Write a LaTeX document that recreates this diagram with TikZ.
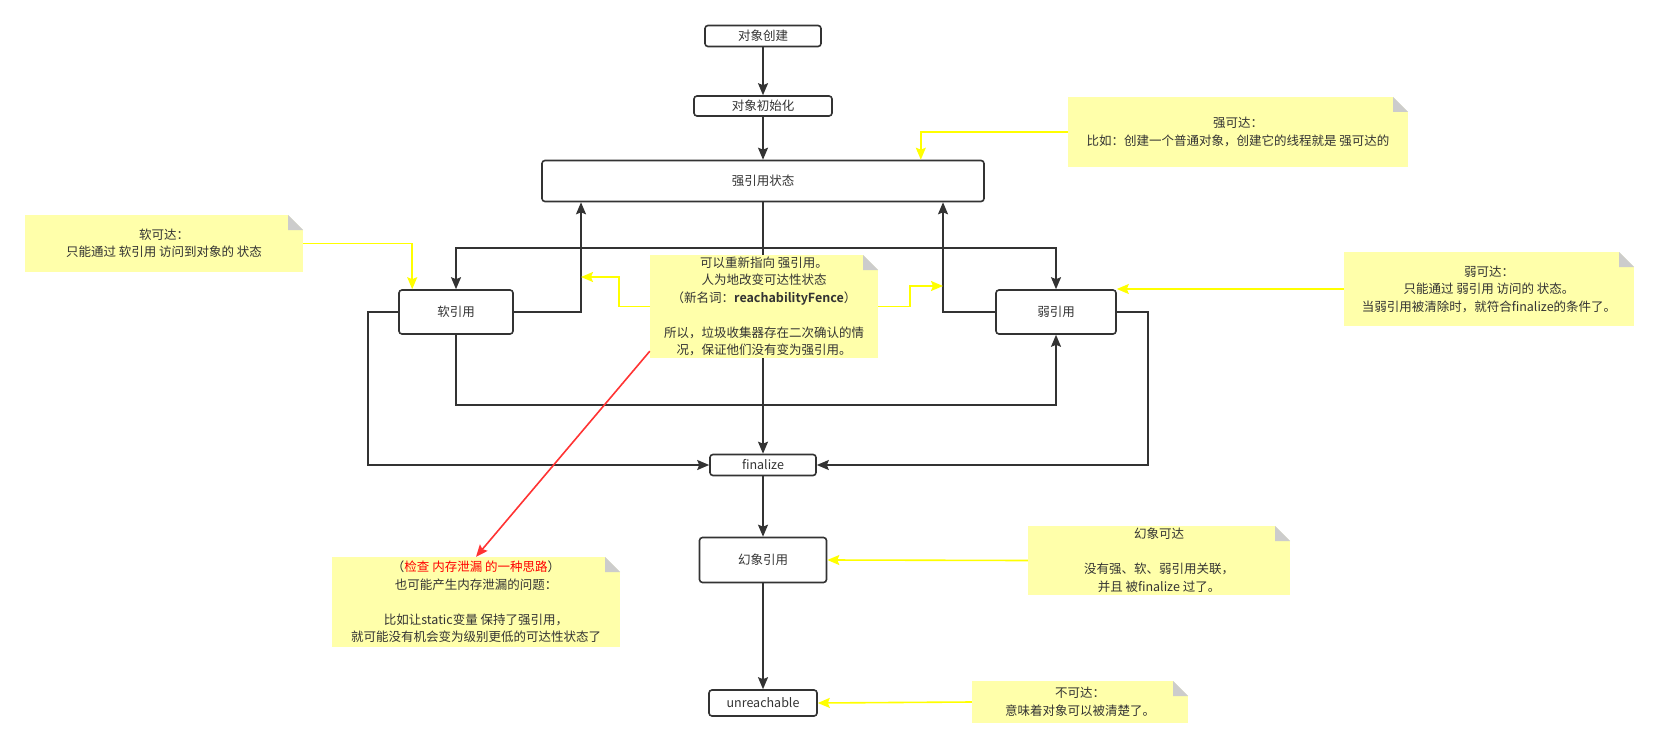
\documentclass[tikz,border=0pt]{standalone}
\usepackage{fontspec}
\setmainfont{Noto Sans CJK SC}[BoldFont={Noto Sans CJK SC Bold}]
\usepackage{tikz}
\usetikzlibrary{arrows.meta}
\usetikzlibrary{backgrounds}

\definecolor{linegray}{HTML}{333333}
\definecolor{noteyellow}{HTML}{FFFFAA}
\definecolor{foldgray}{HTML}{CCCCCC}
\definecolor{hintyellow}{HTML}{FFFF00}
\definecolor{alarmred}{HTML}{FF3333}

\begin{document}
\begin{tikzpicture}[x=1pt, y=-1pt,
        font=\fontsize{12.5}{17.5}\selectfont, text=linegray,
        refbox/.style={draw=linegray, line width=1.6pt, rounded corners=3pt, fill=white, inner sep=0pt},
        notebox/.style={fill=noteyellow, align=center, inner sep=0pt,
            path picture={
                \fill[white] ([xshift=-15pt]path picture bounding box.north east)
                    -- (path picture bounding box.north east)
                    -- ([yshift=-15pt]path picture bounding box.north east) -- cycle;
                \fill[foldgray] ([xshift=-15pt]path picture bounding box.north east)
                    -- ([xshift=-15pt,yshift=-15pt]path picture bounding box.north east)
                    -- ([yshift=-15pt]path picture bounding box.north east) -- cycle;
            }},
        link/.style={draw=linegray, line width=1.7pt, -{Stealth[length=12pt,width=10pt,inset=2pt]}},
        hint/.style={draw=hintyellow, line width=1.6pt, -{Stealth[length=12pt,width=10pt,inset=2pt]}},
        alarm/.style={draw=alarmred, line width=1.6pt, -{Stealth[length=12pt,width=10pt,inset=2pt]}}]

        \useasboundingbox (0,0) rectangle (1659,749);

        % states
        \node[refbox, minimum width=116pt, minimum height=21pt] (create) at (763,36) {对象创建};
        \node[refbox, minimum width=138pt, minimum height=20pt] (init) at (763,106) {对象初始化};
        \node[refbox, minimum width=442pt, minimum height=41pt] (strong) at (763,181) {强引用状态};
        \node[refbox, minimum width=114pt, minimum height=44pt] (soft) at (456,312) {软引用};
        \node[refbox, minimum width=120pt, minimum height=44pt] (weak) at (1056,312) {弱引用};
        \node[refbox, minimum width=106pt, minimum height=21pt] (finalize) at (763,465) {finalize};
        \node[refbox, minimum width=127pt, minimum height=45pt] (phantom) at (763,560) {幻象引用};
        \node[refbox, minimum width=108pt, minimum height=26pt] (unreach) at (763,703) {unreachable};

        \coordinate (split) at (763,248);
        \coordinate (softup) at (581,277);
        \coordinate (weakup) at (943,286);

        % notes
        \node[notebox, minimum width=340pt, minimum height=70pt] (strongnote) at (1238,132)
            {强可达：\\比如：创建一个普通对象，创建它的线程就是 强可达的};
        \node[notebox, minimum width=278pt, minimum height=57pt] (softnote) at (164,243.5)
            {软可达：\\只能通过 软引用 访问到对象的 状态};
        \node[notebox, minimum width=228pt, minimum height=103pt] (fencenote) at (764,306.5)
            {可以重新指向 强引用。\\人为地改变可达性状态\\（新名词：\textbf{reachabilityFence}）\\[17.5pt]
             所以，垃圾收集器存在二次确认的情\\况，保证他们没有变为强引用。};
        \node[notebox, minimum width=290pt, minimum height=74pt] (weaknote) at (1489,289)
            {弱可达：\\只能通过 弱引用 访问的 状态。\\当弱引用被清除时，就符合finalize的条件了。};
        \node[notebox, minimum width=288pt, minimum height=90pt] (leaknote) at (476,602)
            {（\textcolor{red}{检查 内存泄漏 的一种思路}）\\也可能产生内存泄漏的问题：\\[17.5pt]
             比如让static变量 保持了强引用，\\就可能没有机会变为级别更低的可达性状态了};
        \node[notebox, minimum width=262pt, minimum height=69pt] (phantomnote) at (1159,560.5)
            {幻象可达\\[17.5pt]没有强、软、弱引用关联，\\并且 被finalize 过了。};
        \node[notebox, minimum width=216pt, minimum height=42pt] (unreachnote) at (1080,702)
            {不可达：\\意味着对象可以被清楚了。};

        \begin{scope}[on background layer]
            \draw[link] (create) -- (init);
            \draw[link] (init) -- (strong);
            \draw[link] (strong.south) -- (split) -| (soft.north);
            \draw[link] (strong.south) -- (split) -| (weak.north);
            \draw[link] (strong.south) -- (finalize.north);
            \draw[link] (soft.east) -| (softup |- strong.south);
            \draw[link] (weak.west) -| (weakup |- strong.south);
            \draw[link] (soft.south) -- ++(0,70) -| (weak.south);
            \draw[link] (soft.west) -- ++(-30,0) |- (finalize.west);
            \draw[link] (weak.east) -- ++(31,0) |- (finalize.east);
            \draw[link] (finalize) -- (phantom);
            \draw[link] (phantom) -- (unreach);
        \end{scope}

        % yellow hints
        \draw[hint] (strongnote.west) -| ([xshift=-64pt]strong.north east);
        \draw[hint] (softnote.east) -| ([xshift=14pt]soft.north west);
        \draw[hint] (fencenote.west) -- ++(-31,0) |- (softup);
        \draw[hint] (fencenote.east) -- ++(32,0) |- (weakup);
        \draw[hint] (weaknote.west) -- (weaknote.west -| weak.east);
        \draw[hint] (phantomnote.west) -- (phantom.east);
        \draw[hint] (unreachnote.west) -- (unreach.east);
        \draw[alarm] ([yshift=7pt]fencenote.south west) -- (leaknote.north);
    \end{tikzpicture}
\end{document}
